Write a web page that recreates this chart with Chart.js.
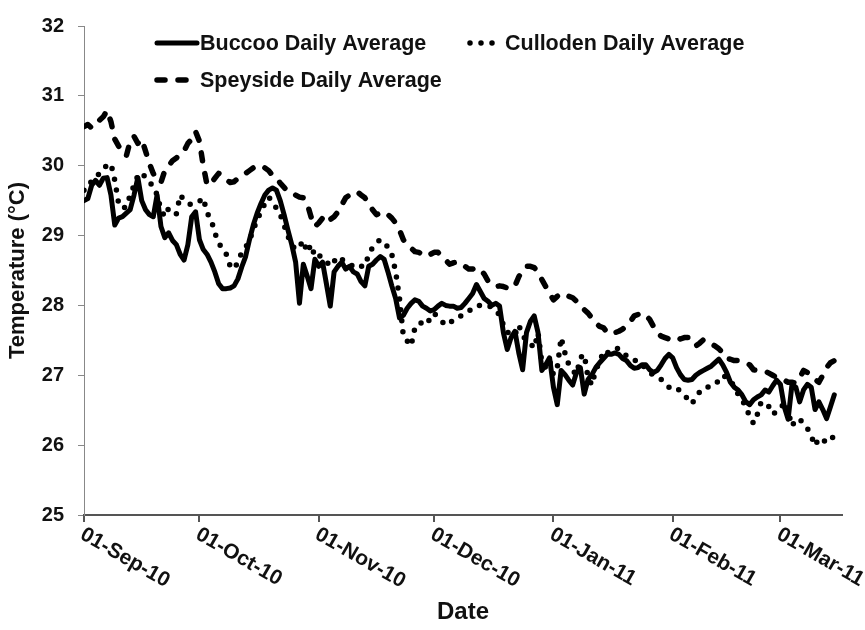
<!DOCTYPE html>
<html>
<head>
<meta charset="utf-8">
<script src="https://cdn.jsdelivr.net/npm/chart.js@4.4.1/dist/chart.umd.min.js"></script>
<style>
  html, body { margin: 0; padding: 0; background: #fff; }
  #wrap { width: 865px; height: 630px; }
</style>
</head>
<body>
<div id="wrap"><canvas id="temps"></canvas></div>
<script>
// day 0 = 01-Sep-10, one value per day
const buccoo = [
  29.5, 29.53, 29.72, 29.79, 29.72, 29.82, 29.83, 29.58, 29.15, 29.25,
  29.27, 29.32, 29.37, 29.58, 29.83, 29.5, 29.37, 29.3, 29.27, 29.58,
  29.13, 28.97, 29.04, 28.93, 28.87, 28.73, 28.65, 28.87, 29.27, 29.34,
  28.94, 28.8, 28.73, 28.62, 28.48, 28.31, 28.24, 28.24, 28.25, 28.28,
  28.38, 28.55, 28.7, 28.94, 29.15, 29.32, 29.46, 29.58, 29.65, 29.68,
  29.65, 29.5, 29.3, 29.08, 28.87, 28.62, 28.03, 28.59, 28.42, 28.24,
  28.66, 28.56, 28.62, 28.31, 27.99, 28.48, 28.56, 28.62, 28.52, 28.56,
  28.48, 28.45, 28.34, 28.28, 28.56, 28.59, 28.65, 28.7, 28.66, 28.48,
  28.28, 28.1, 27.82, 27.86, 27.96, 28.03, 28.08, 28.06, 27.99, 27.96,
  27.92, 27.94, 27.99, 28.03, 28.0, 27.99, 27.99, 27.96, 27.97, 28.03,
  28.1, 28.17, 28.3, 28.2, 28.1, 28.06, 28.0, 28.03, 27.99, 27.61,
  27.37, 27.54, 27.63, 27.32, 27.08, 27.61, 27.77, 27.85, 27.61, 27.07,
  27.15, 27.25, 26.83, 26.58, 27.07, 27.01, 26.93, 26.86, 27.04, 27.11,
  26.73, 26.94, 27.01, 27.11, 27.18, 27.24, 27.3, 27.3, 27.32, 27.3,
  27.24, 27.21, 27.14, 27.1, 27.11, 27.15, 27.15, 27.08, 27.04, 27.07,
  27.15, 27.24, 27.3, 27.25, 27.11, 27.01, 26.94, 26.93, 26.94, 27.0,
  27.04, 27.07, 27.1, 27.13, 27.18, 27.23, 27.15, 27.04, 26.9, 26.83,
  26.79, 26.72, 26.62, 26.58, 26.65, 26.69, 26.72, 26.79, 26.76, 26.85,
  26.93, 26.87, 26.55, 26.37, 26.87, 26.83, 26.62, 26.79, 26.87, 26.83,
  26.51, 26.62, 26.51, 26.38, 26.55, 26.72
];

const culloden = [
  29.65, 29.68, 29.79, 29.83, 29.89, 29.97, 30.0, 30.03, 29.79, 29.46,
  29.39, 29.41, 29.58, 29.72, 29.86, 29.9, 29.83, 29.75, 29.72, 29.58,
  29.37, 29.27, 29.39, 29.35, 29.31, 29.58, 29.51, 29.46, 29.44, 29.46,
  29.49, 29.54, 29.32, 29.24, 29.04, 28.9, 28.8, 28.73, 28.56, 28.52,
  28.62, 28.76, 28.83, 28.93, 29.08, 29.23, 29.34, 29.46, 29.55, 29.49,
  29.39, 29.3, 29.15, 28.99, 28.87, 28.8, 28.84, 28.93, 28.76, 28.87,
  28.7, 28.73, 28.66, 28.63, 28.56, 28.63, 28.7, 28.66, 28.62, 28.59,
  28.56, 28.59, 28.56, 28.56, 28.73, 28.83, 28.9, 28.94, 28.91, 28.83,
  28.73, 28.48, 28.1, 27.56, 27.49, 27.42, 27.68, 27.75, 27.75, 27.72,
  27.82, 27.89, 27.82, 27.77, 27.72, 27.77, 27.77, 27.82, 27.85, 27.89,
  27.92, 27.96, 28.0, 28.0, 27.99, 28.0, 27.97, 27.93, 27.86, 27.72,
  27.61, 27.63, 27.58, 27.72, 27.56, 27.51, 27.46, 27.39, 27.61, 27.18,
  27.11, 27.21, 27.01, 27.11, 27.54, 27.32, 27.15, 27.07, 27.01, 27.25,
  27.3, 26.97, 26.86, 27.08, 27.18, 27.35, 27.32, 27.35, 27.39, 27.38,
  27.32, 27.28, 27.25, 27.21, 27.21, 27.15, 27.1, 27.04, 27.0, 26.97,
  26.94, 26.87, 26.83, 26.83, 26.83, 26.76, 26.72, 26.65, 26.59, 26.69,
  26.76, 26.82, 26.83, 26.85, 26.86, 26.93, 27.0, 26.97, 26.93, 26.83,
  26.73, 26.65, 26.55, 26.41, 26.31, 26.44, 26.62, 26.59, 26.55, 26.44,
  26.48, 26.51, 26.62, 26.48, 26.27, 26.37, 26.37, 26.31, 26.24, 26.13,
  25.99, 26.1, 26.08, 26.03, 26.08, 26.13
];

const speyside = [
  30.56, 30.59, 30.54, 30.6, 30.65, 30.7, 30.79, 30.63, 30.38, 30.28,
  30.21, 30.14, 30.35, 30.42, 30.32, 30.38, 30.21, 30.03, 29.89, 29.79,
  29.76, 29.93, 30.0, 30.07, 30.11, 30.17, 30.21, 30.32, 30.38, 30.49,
  30.35, 30.0, 29.72, 29.75, 29.82, 29.89, 29.86, 29.8, 29.76, 29.77,
  29.82, 29.86, 29.89, 29.93, 29.97, 30.0, 30.0, 29.97, 29.93, 29.86,
  29.83, 29.75, 29.69, 29.63, 29.61, 29.58, 29.55, 29.54, 29.46, 29.27,
  29.13, 29.18, 29.25, 29.3, 29.23, 29.27, 29.34, 29.44, 29.54, 29.58,
  29.61, 29.63, 29.58, 29.54, 29.46, 29.37, 29.3, 29.32, 29.34, 29.3,
  29.25, 29.18, 29.08, 28.94, 28.87, 28.82, 28.77, 28.76, 28.73, 28.7,
  28.73, 28.76, 28.76, 28.7, 28.65, 28.59, 28.61, 28.62, 28.61, 28.56,
  28.52, 28.52, 28.54, 28.51, 28.45, 28.35, 28.3, 28.27, 28.28, 28.27,
  28.25, 28.24, 28.28, 28.41, 28.51, 28.56, 28.56, 28.54, 28.48, 28.37,
  28.27, 28.17, 28.08, 28.13, 28.17, 28.14, 28.13, 28.11, 28.06, 28.0,
  27.94, 27.89, 27.82, 27.75, 27.7, 27.68, 27.61, 27.59, 27.61, 27.63,
  27.66, 27.72, 27.77, 27.85, 27.87, 27.89, 27.86, 27.8, 27.7, 27.61,
  27.56, 27.54, 27.52, 27.54, 27.55, 27.52, 27.54, 27.54, 27.46, 27.42,
  27.46, 27.51, 27.49, 27.45, 27.42, 27.38, 27.32, 27.24, 27.23, 27.21,
  27.21, 27.2, 27.18, 27.15, 27.08, 27.07, 27.06, 27.06, 27.03, 27.0,
  26.97, 26.94, 26.93, 26.9, 26.9, 26.89, 26.96, 27.07, 27.04, 26.99,
  26.94, 26.9, 27.0, 27.11, 27.18, 27.21
];

// month starts as day numbers, and their labels
const monthDays = [0, 30, 61, 91, 122, 153, 181];
const monthLabels = ['01-Sep-10', '01-Oct-10', '01-Nov-10', '01-Dec-10', '01-Jan-11', '01-Feb-11', '01-Mar-11'];

const FONT = "'Liberation Sans', Arial, sans-serif";
const INK = '#111';

const toXY = arr => arr.map((v, i) => ({ x: i, y: v }));

const series = [
  { label: 'Buccoo Daily Average', data: toXY(buccoo), dash: [], width: 5 },
  { label: 'Culloden Daily Average', data: toXY(culloden), dash: [0, 11], width: 5.5 },
  { label: 'Speyside Daily Average', data: toXY(speyside), dash: [8, 13], width: 5.5 }
];

// legend drawn inside the plot, two rows like the original
const legendSpots = [
  { x: 157, y: 43, len: 40, tx: 200 },
  { x: 470, y: 43, len: 22.5, tx: 505 },
  { x: 157, y: 80, len: 40, tx: 200 }
];

const customBits = {
  id: 'customBits',
  afterDraw(chart) {
    const ctx = chart.ctx;
    const xs = chart.scales.x;
    ctx.save();
    // rotated date labels, hanging down to the right
    ctx.fillStyle = INK;
    ctx.font = 'bold 21px ' + FONT;
    ctx.textAlign = 'left';
    ctx.textBaseline = 'middle';
    monthDays.forEach((d, i) => {
      const px = xs.getPixelForValue(d);
      ctx.save();
      ctx.translate(px - 2, 533);
      ctx.rotate(30 * Math.PI / 180);
      ctx.fillText(monthLabels[i], 0, 0);
      ctx.restore();
    });
    // legend
    ctx.font = 'bold 21.5px ' + FONT;
    chart.data.datasets.forEach((ds, i) => {
      const s = legendSpots[i];
      ctx.beginPath();
      ctx.setLineDash(ds.borderDash);
      ctx.lineCap = 'round';
      ctx.lineWidth = ds.borderWidth;
      ctx.strokeStyle = ds.borderColor;
      ctx.moveTo(s.x, s.y);
      ctx.lineTo(s.x + s.len, s.y);
      ctx.stroke();
      ctx.setLineDash([]);
      ctx.fillText(ds.label, s.tx, s.y + 1);
    });
    ctx.restore();
  }
};

new Chart(document.getElementById('temps').getContext('2d'), {
  type: 'line',
  data: {
    datasets: series.map(s => ({
      label: s.label,
      data: s.data,
      borderColor: '#000',
      borderWidth: s.width,
      borderDash: s.dash,
      borderCapStyle: 'round',
      borderJoinStyle: 'round',
      pointRadius: 0,
      tension: 0,
      fill: false
    }))
  },
  options: {
    responsive: true,
    maintainAspectRatio: false,
    animation: false,
    layout: { padding: { top: 18, right: 23, left: 0, bottom: 0 } },
    scales: {
      x: {
        type: 'linear',
        min: 0,
        max: 197,
        afterBuildTicks: scale => { scale.ticks = monthDays.map(v => ({ value: v })); },
        afterFit: scale => { scale.height = 115; },
        ticks: { display: false },
        grid: { drawOnChartArea: false, drawTicks: true, tickLength: 7, color: '#555', lineWidth: 2 },
        border: { display: true, color: '#555', width: 2 },
        title: {
          display: true,
          text: 'Date',
          color: INK,
          font: { family: FONT, size: 24, weight: 'bold' },
          padding: { top: 0, bottom: 3 }
        }
      },
      y: {
        min: 25,
        max: 32,
        afterFit: scale => { scale.width = 84; },
        ticks: {
          stepSize: 1,
          color: INK,
          padding: 14,
          font: { family: FONT, size: 20, weight: 'bold' }
        },
        grid: { drawOnChartArea: false, drawTicks: true, tickLength: 6, color: '#888' },
        border: { display: true, color: '#888', width: 1 },
        title: {
          display: true,
          text: 'Temperature (°C)',
          color: INK,
          font: { family: FONT, size: 22, weight: 'bold' },
          padding: { top: 5, bottom: 0 }
        }
      }
    },
    plugins: {
      legend: { display: false },
      tooltip: { enabled: false }
    }
  },
  plugins: [customBits]
});
</script>
</body>
</html>
